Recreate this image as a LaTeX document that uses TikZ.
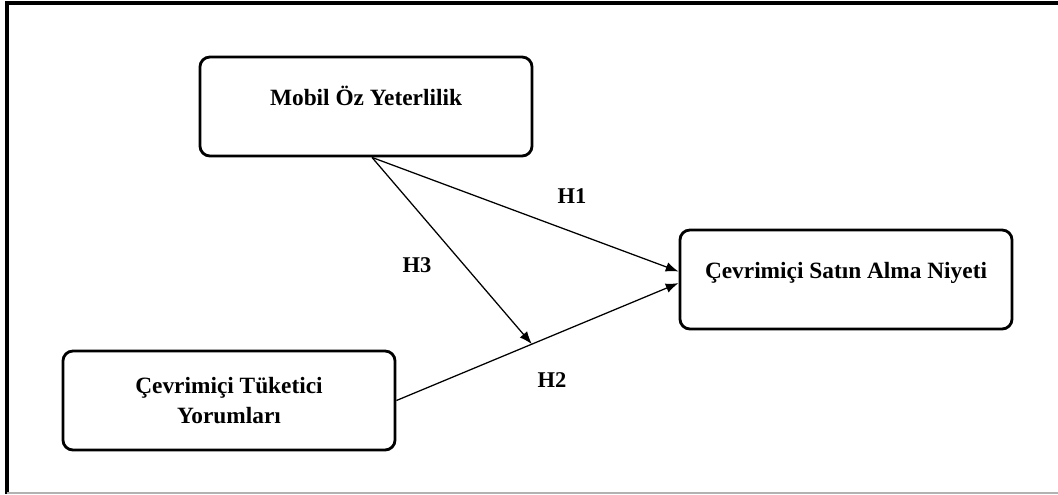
\documentclass[tikz,border=0pt]{standalone}
\usepackage{fontspec}
\setmainfont{Liberation Serif}
\usepackage{tikz}
\usetikzlibrary{arrows.meta}
\tikzstyle{box} = [rectangle, rounded corners=0.25cm, minimum width=8.3cm, minimum height=2.475cm, text centered, draw=black, line width=2pt, font=\bfseries\fontsize{16.6}{21.3}\selectfont]
\tikzstyle{hyp} = [font=\bfseries\fontsize{16}{18}\selectfont]
\tikzstyle{link} = [-{Latex[length=3.2mm,width=2.4mm]}, line width=0.9pt]

\begin{document}
\begin{tikzpicture}[x=0.025cm,y=-0.025cm]
\useasboundingbox (0,0) rectangle (1058,494);
% frame
\draw[line width=2.4pt] (7,494) -- (7,3) -- (1058,3);
\draw[black!30, line width=1pt] (7,493) -- (1058,493);
% boxes
\node[box, text height=0.38cm, text depth=0.43cm] (mobil) at (366,106.5) {Mobil Öz Yeterlilik};
\node[box, text height=0.38cm, text depth=0.43cm] (satin) at (846,279.5) {Çevrimiçi Satın Alma Niyeti};
\node[box, align=center] (tuketici) at (229,400.5) {Çevrimiçi Tüketici\\Yorumları};
% paths
\draw[link] ([xshift=0.15cm]mobil.south) -- ([yshift=0.2cm]satin.west);
\draw[link] (tuketici.east) -- coordinate[pos=0.48] (meet) ([yshift=-0.09cm]satin.west);
\draw[link] ([xshift=0.15cm]mobil.south) -- (meet);
\node[hyp] (h1) at (572,196) {H1};
\node[hyp] (h2) at (552,380) {H2};
\node[hyp] (h3) at (417,265) {H3};
\end{tikzpicture}
\end{document}
